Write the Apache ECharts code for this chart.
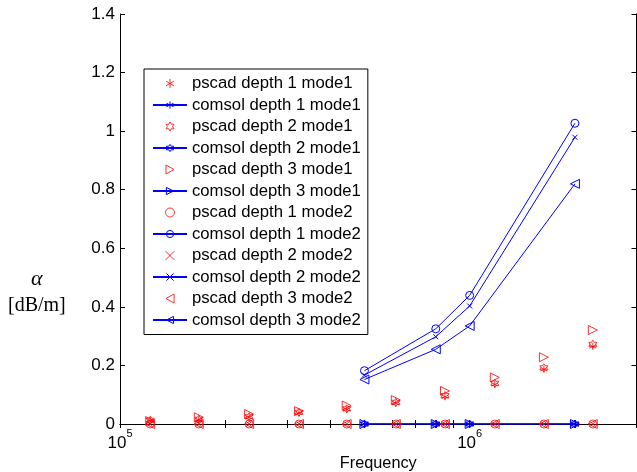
<!DOCTYPE html>
<html>
<head>
<meta charset="utf-8">
<script src="https://cdn.jsdelivr.net/npm/echarts@6/dist/echarts.min.js"></script>
<style>html,body{margin:0;padding:0;background:#fff;}#c{width:637px;height:472px;}</style>
</head>
<body>
<div id="c"></div>
<script>
// ---- data ----
const pscadFreq = [1.22e5, 1.68e5, 2.34e5, 3.25e5, 4.45e5, 6.15e5, 8.5e5, 1.18e6, 1.63e6, 2.25e6];
const pscadD1M1 = [0.012, 0.014, 0.023, 0.038, 0.050, 0.071, 0.093, 0.135, 0.187, 0.265];
const pscadD2M1 = [0.013, 0.016, 0.025, 0.040, 0.052, 0.074, 0.097, 0.139, 0.192, 0.272];
const pscadD3M1 = [0.010, 0.023, 0.034, 0.044, 0.063, 0.082, 0.113, 0.159, 0.228, 0.321];
const pscadD1M2 = [0, 0, 0, 0, 0, 0, 0, 0, 0, 0];
const pscadD2M2 = [0, 0, 0, 0, 0, 0, 0, 0, 0, 0];
const pscadD3M2 = [0, 0, 0, 0, 0, 0, 0, 0, 0, 0];
const comsolFreq = [5e5, 8e5, 1e6, 2e6];
const comsolD1M1 = [0, 0, 0, 0];
const comsolD2M1 = [0, 0, 0, 0];
const comsolD3M1 = [0, 0, 0, 0];
const comsolD1M2 = [0.182, 0.325, 0.439, 1.027];
const comsolD2M2 = [0.167, 0.298, 0.403, 0.979];
const comsolD3M2 = [0.152, 0.255, 0.335, 0.820];
const seriesNames = [
  'pscad depth 1 mode1', 'comsol depth 1 mode1',
  'pscad depth 2 mode1', 'comsol depth 2 mode1',
  'pscad depth 3 mode1', 'comsol depth 3 mode1',
  'pscad depth 1 mode2', 'comsol depth 1 mode2',
  'pscad depth 2 mode2', 'comsol depth 2 mode2',
  'pscad depth 3 mode2', 'comsol depth 3 mode2'
];
const xTickValues = [1e5, 2e5, 3e5, 4e5, 5e5, 6e5, 7e5, 8e5, 9e5, 1e6, 2e6, 3e6];
const xLabelValues = [1e5, 1e6];

// ---- symbols ----
const SYM = {
  star: 'path://M0,-10L0,10M-8.66,-5L8.66,5M-8.66,5L8.66,-5M0,-10',
  hex: 'path://M0,-10L2.887,-5L8.66,-5L5.77,0L8.66,5L2.887,5L0,10L-2.887,5L-8.66,5L-5.77,0L-8.66,-5L-2.887,-5Z',
  triR: 'path://M-8,-10L10,0L-8,10Z',
  circ: 'circle',
  x: 'path://M-10,-10L10,10M-10,10L10,-10',
  triL: 'path://M8,-10L-10,0L8,10Z'
};
const RED = '#ff0000', BLUE = '#0000ff';
const zip = (xs, ys) => xs.map((x, i) => [x, ys[i]]);

function pscad(name, ys, sym, size) {
  return {
    name, type: 'scatter', data: zip(pscadFreq, ys), symbol: sym, symbolSize: size,
    itemStyle: { color: 'rgba(0,0,0,0)', borderColor: RED, borderWidth: 1 },
    z: 4
  };
}
function comsol(name, ys, sym, size) {
  return {
    name, type: 'line', data: zip(comsolFreq, ys), symbol: sym, symbolSize: size,
    showSymbol: true,
    lineStyle: { color: BLUE, width: 1 },
    itemStyle: { color: 'rgba(0,0,0,0)', borderColor: BLUE, borderWidth: 1 },
    z: 3
  };
}

const series = [
  pscad(seriesNames[0], pscadD1M1, SYM.star, 7),
  comsol(seriesNames[1], comsolD1M1, SYM.star, 7),
  pscad(seriesNames[2], pscadD2M1, SYM.hex, 8),
  comsol(seriesNames[3], comsolD2M1, SYM.hex, 8),
  pscad(seriesNames[4], pscadD3M1, SYM.triR, 9),
  comsol(seriesNames[5], comsolD3M1, SYM.triR, 9),
  pscad(seriesNames[6], pscadD1M2, SYM.circ, 8),
  comsol(seriesNames[7], comsolD1M2, SYM.circ, 8),
  pscad(seriesNames[8], pscadD2M2, SYM.x, 5),
  comsol(seriesNames[9], comsolD2M2, SYM.x, 5),
  pscad(seriesNames[10], pscadD3M2, SYM.triL, 9),
  comsol(seriesNames[11], comsolD3M2, SYM.triL, 9)
];

const font = '"Liberation Sans", Arial, Helvetica, sans-serif';
const chart = echarts.init(document.getElementById('c'), null, { renderer: 'canvas' });
chart.setOption({
  animation: false,
  backgroundColor: '#fff',
  grid: { left: 120, right: 0.5, top: 14, bottom: 48, containLabel: false, outerBoundsMode: 'none' },
  legend: {
    orient: 'vertical', left: 144, top: 69,
    data: seriesNames,
    itemWidth: 34, itemHeight: 9, itemGap: 4.5,
    padding: [6, 7, 6, 8],
    borderColor: '#000', borderWidth: 1, backgroundColor: '#fff',
    itemStyle: { color: 'rgba(0,0,0,0)', borderWidth: 1 },
    textStyle: { fontFamily: font, fontSize: 16.7, color: '#000' },
    selectedMode: false
  },
  xAxis: [{
    type: 'log', logBase: 10, min: 1e5, max: 3e6,
    position: 'bottom',
    name: 'Frequency', nameLocation: 'middle', nameGap: 31.5, nameMoveOverlap: false,
    nameTextStyle: { fontFamily: font, fontSize: 16.3, color: '#000' },
    axisLine: { show: true, lineStyle: { color: '#000', width: 1 } },
    axisTick: { show: true, inside: true, length: 4, customValues: xTickValues, lineStyle: { color: '#000' } },
    axisLabel: {
      customValues: xLabelValues, margin: 4,
      formatter: v => '{b|10}{s|' + Math.round(Math.log10(v)) + '}',
      rich: {
        b: { fontFamily: font, fontSize: 17, color: '#000', padding: [7, 0, 0, 0] },
        s: { fontFamily: font, fontSize: 11, color: '#000', verticalAlign: 'top', padding: [0, 0, 8, 0] }
      }
    },
    splitLine: { show: false }, minorTick: { show: false }
  }, {
    type: 'log', logBase: 10, min: 1e5, max: 3e6,
    position: 'top',
    axisLine: { show: true, lineStyle: { color: '#000', width: 1 } },
    axisTick: { show: true, inside: true, length: 4, customValues: xTickValues, lineStyle: { color: '#000' } },
    axisLabel: { show: false }, splitLine: { show: false }
  }],
  yAxis: [{
    type: 'value', min: 0, max: 1.4, interval: 0.2,
    axisLine: { show: true, lineStyle: { color: '#000', width: 1 } },
    axisTick: { show: true, inside: true, length: 5, lineStyle: { color: '#000' } },
    axisLabel: { fontFamily: font, fontSize: 17, color: '#000', margin: 5, formatter: v => String(+v.toFixed(1)) },
    splitLine: { show: false }
  }, {
    type: 'value', min: 0, max: 1.4, interval: 0.2, position: 'right',
    axisLine: { show: true, lineStyle: { color: '#000', width: 1 } },
    axisTick: { show: true, inside: true, length: 5, lineStyle: { color: '#000' } },
    axisLabel: { show: false }, splitLine: { show: false }
  }],
  graphic: [
    { type: 'text', left: 31, top: 268, style: { text: 'α', font: 'italic 22px "Liberation Serif", "DejaVu Serif", serif', fill: '#000' } },
    { type: 'text', left: 8, top: 296, style: { text: '[dB/m]', font: '20px "Liberation Serif", "DejaVu Serif", serif', fill: '#000' } }
  ],
  series
});
</script>
</body>
</html>
